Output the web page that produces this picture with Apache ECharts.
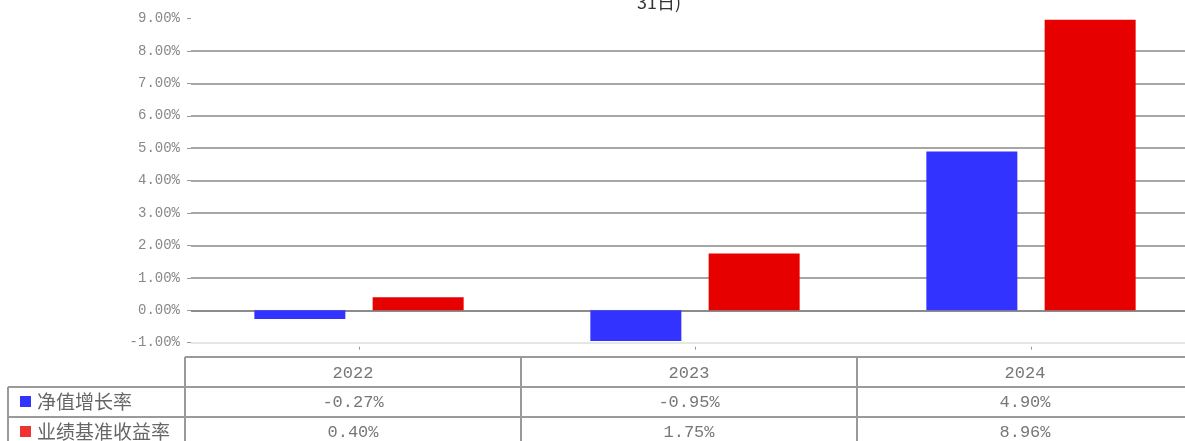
<!DOCTYPE html>
<html>
<head>
<meta charset="utf-8">
<script src="https://cdn.jsdelivr.net/npm/echarts@6/dist/echarts.min.js"></script>
<style>
  html, body { margin: 0; padding: 0; background: #fff; }
  #main { width: 1185px; height: 441px; }
</style>
</head>
<body>
<div id="main"></div>
<script>
// data
var years = ['2022', '2023', '2024'];
var seriesNames = ['净值增长率', '业绩基准收益率'];
var navGrowth = [-0.27, -0.95, 4.90];      // 净值增长率
var benchmark = [0.40, 1.75, 8.96];        // 业绩基准收益率
var barColors = ['#3333ff', '#e60000'];
var legendColors = ['#3333ff', '#ee3333'];
var titleText = '31日)';

// split line colours from min(-1%) to max(9%)
var splitColors = ['#e6e6e6', '#8c8c8c', '#a6a6a6', '#a6a6a6', '#a6a6a6', '#a6a6a6',
  '#a6a6a6', '#a6a6a6', '#a6a6a6', '#a6a6a6', 'rgba(0,0,0,0)'];

var chart = echarts.init(document.getElementById('main'));
var option = {
  animation: false,
  title: {
    text: titleText,
    left: 632,
    top: -12,
    textStyle: { fontSize: 18, fontWeight: 'normal', color: '#333', fontFamily: 'Noto Sans CJK SC' }
  },
  grid: { left: 191, right: -14, top: 18.5, bottom: 98.3, outerBoundsMode: 'none', containLabel: false },
  xAxis: {
    type: 'category',
    data: years,
    axisLine: { show: false, onZero: false },
    axisTick: { show: true, alignWithLabel: true, length: 3, lineStyle: { color: '#999' } },
    axisLabel: { show: false },
    offset: 4
  },
  yAxis: {
    type: 'value',
    min: -1,
    max: 9,
    interval: 1,
    axisLine: { show: false },
    axisTick: { show: true, length: 4, lineStyle: { color: '#999' } },
    axisLabel: {
      margin: 11,
      color: '#888',
      fontFamily: 'Liberation Mono',
      fontSize: 14,
      formatter: function (v) { return v.toFixed(2) + '%'; }
    },
    splitLine: { show: true, lineStyle: { color: splitColors, width: 2 } }
  },
  series: [
    {
      name: seriesNames[0],
      type: 'bar',
      data: navGrowth,
      barWidth: 91,
      barGap: '30%',
      itemStyle: { color: barColors[0] }
    },
    {
      name: seriesNames[1],
      type: 'bar',
      data: benchmark,
      barWidth: 91,
      itemStyle: { color: barColors[1] }
    }
  ]
};
chart.setOption(option);

// data table under the chart
function buildTable() {
  var shift = -6;
  var lineColor = '#9a9a9a';
  var rowTop = [357, 387, 417, 447];
  var centers = years.map(function (y) {
    return chart.convertToPixel({ xAxisIndex: 0 }, y) + shift;
  });
  var half = (centers[1] - centers[0]) / 2;
  var els = [];
  var right = 1185;
  function line(x1, y1, x2, y2) {
    els.push({ type: 'line', shape: { x1: x1, y1: y1, x2: x2, y2: y2 }, style: { stroke: lineColor, lineWidth: 2 }, silent: true });
  }
  var firstX = centers[0] - half;
  // horizontal lines
  line(firstX, rowTop[0], right, rowTop[0]);
  line(8, rowTop[1], right, rowTop[1]);
  line(8, rowTop[2], right, rowTop[2]);
  // vertical lines
  line(8, rowTop[1], 8, 441);
  centers.forEach(function (c) {
    line(c - half, rowTop[0], c - half, 441);
  });
  line(centers[centers.length - 1] + half, rowTop[0], centers[centers.length - 1] + half, 441);
  // year header
  years.forEach(function (y, i) {
    els.push({ type: 'text', x: centers[i], y: (rowTop[0] + rowTop[1]) / 2 + 1, style: {
      text: y, fill: '#777', font: '17px "Liberation Mono"', align: 'center', verticalAlign: 'middle' } });
  });
  var rows = [navGrowth, benchmark];
  rows.forEach(function (vals, r) {
    var cy = (rowTop[r + 1] + rowTop[r + 2]) / 2;
    els.push({ type: 'rect', shape: { x: 20, y: cy - 6, width: 11, height: 11 }, style: { fill: legendColors[r] } });
    els.push({ type: 'text', x: 37, y: cy, style: {
      text: seriesNames[r], fill: '#666', font: '19px "Noto Sans CJK SC"', align: 'left', verticalAlign: 'middle' } });
    vals.forEach(function (v, i) {
      els.push({ type: 'text', x: centers[i], y: cy, style: {
        text: v.toFixed(2) + '%', fill: '#777', font: '17px "Liberation Mono"', align: 'center', verticalAlign: 'middle' } });
    });
  });
  chart.setOption({ graphic: { elements: els } });
}
buildTable();
</script>
</body>
</html>
